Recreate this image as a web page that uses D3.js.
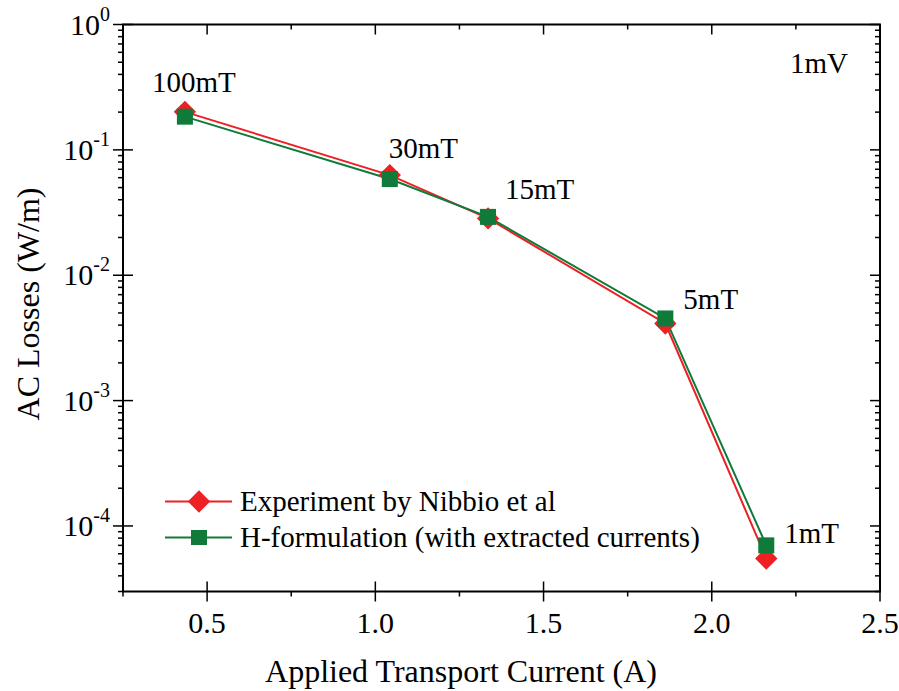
<!DOCTYPE html>
<html><head><meta charset="utf-8">
<script src="https://cdn.jsdelivr.net/npm/d3@7/dist/d3.min.js"></script>
<style>body{margin:0;background:#fff}svg{display:block}text{font-family:"Liberation Serif","Times New Roman","DejaVu Serif",serif;fill:#000}</style>
</head><body>
<script>
const current = [0.434, 1.043, 1.335, 1.862, 2.162];
const fieldLabels = ["100mT", "30mT", "15mT", "5mT", "1mT"];
const experiment = [0.201, 0.0629, 0.0284, 0.00412, 0.000055];
const hFormulation = [0.184, 0.0585, 0.0292, 0.00452, 0.000070];
const xTicks = [0.5, 1.0, 1.5, 2.0, 2.5];
const yTickExps = [0, -1, -2, -3, -4];
const seriesNames = ["Experiment by Nibbio et al", "H-formulation (with extracted currents)"];
const colors = ["#ee2024", "#0f7a3a"];

const W = 899, H = 691;
const m = {l:123, r:880, t:24.5, b:591.5};
const svg = d3.select("body").append("svg").attr("width", W).attr("height", H)
  .attr("font-family", "'Liberation Serif','Times New Roman',serif");
const x = d3.scaleLinear().domain([0.25, 2.5]).range([m.l, m.r]);
const y = d3.scaleLog().domain([3e-5, 1]).range([m.b, m.t]);

// minor ticks
const xMinor = d3.range(0.25, 2.51, 0.25).filter(v => Math.abs(v*2 - Math.round(v*2)) > 1e-6);
const yMinor = [];
for (let e = -5; e < 0; e++) for (let k = 2; k <= 9; k++) { const v = k*Math.pow(10,e); if (v >= 3e-5 && v < 1) yMinor.push(v); }
const g = svg.append("g").attr("stroke", "#000").attr("stroke-width", 1.5);
xTicks.forEach(v => g.append("line").attr("x1", x(v)).attr("x2", x(v)).attr("y1", m.b-10).attr("y2", m.b+10));
xMinor.forEach(v => g.append("line").attr("x1", x(v)).attr("x2", x(v)).attr("y1", m.b).attr("y2", m.b+5));
xTicks.forEach(v => g.append("line").attr("x1", x(v)).attr("x2", x(v)).attr("y1", m.t).attr("y2", m.t+10));
xMinor.forEach(v => g.append("line").attr("x1", x(v)).attr("x2", x(v)).attr("y1", m.t).attr("y2", m.t+5));
yTickExps.forEach(e => g.append("line").attr("y1", y(Math.pow(10,e))).attr("y2", y(Math.pow(10,e))).attr("x1", m.l-10).attr("x2", m.l+10));
yMinor.forEach(v => g.append("line").attr("y1", y(v)).attr("y2", y(v)).attr("x1", m.l-5).attr("x2", m.l));
yTickExps.forEach(e => g.append("line").attr("y1", y(Math.pow(10,e))).attr("y2", y(Math.pow(10,e))).attr("x1", m.r-10).attr("x2", m.r));
yMinor.forEach(v => g.append("line").attr("y1", y(v)).attr("y2", y(v)).attr("x1", m.r-5).attr("x2", m.r));
svg.append("rect").attr("x", m.l).attr("y", m.t).attr("width", m.r-m.l).attr("height", m.b-m.t)
  .attr("fill", "none").attr("stroke", "#000").attr("stroke-width", 2);

// tick labels
xTicks.forEach(v => svg.append("text").attr("x", x(v)).attr("y", m.b+41).attr("text-anchor","middle")
  .attr("font-size", 30).text(v.toFixed(1)));
yTickExps.forEach(e => {
  const t = svg.append("text").attr("x", m.l-13).attr("y", y(Math.pow(10,e))+10).attr("text-anchor","end").attr("font-size", 30);
  t.append("tspan").text("10");
  t.append("tspan").attr("dy", -14).attr("font-size", 20).text(e === 0 ? "0" : ("-" + Math.abs(e)));
});

// axis titles
svg.append("text").attr("x", 461).attr("y", 682).attr("text-anchor","middle").attr("font-size", 32)
  .text("Applied Transport Current (A)");
svg.append("text").attr("transform", "translate(39,304) rotate(-90)").attr("text-anchor","middle").attr("font-size", 32)
  .text("AC Losses (W/m)");

// series
const line = d3.line().x(d => x(d[0])).y(d => y(d[1]));
[experiment, hFormulation].forEach((vals, i) => {
  const pts = current.map((c, j) => [c, vals[j]]);
  svg.append("path").attr("d", line(pts)).attr("fill","none").attr("stroke", colors[i]).attr("stroke-width", 2);
});
const diamondPath = d3.symbol().type(d3.symbolSquare).size(250);
const p0 = current.map((c, j) => [c, experiment[j]]);
svg.selectAll(".dia").data(p0).enter().append("path")
  .attr("transform", d => `translate(${x(d[0])},${y(d[1])}) rotate(45)`)
  .attr("d", diamondPath).attr("fill", colors[0]);
const p1 = current.map((c, j) => [c, hFormulation[j]]);
svg.selectAll(".sq").data(p1).enter().append("rect")
  .attr("x", d => x(d[0])-8).attr("y", d => y(d[1])-8).attr("width", 16).attr("height", 16).attr("fill", colors[1]);

// field labels
const labOff = [[-33,-20],[-1,-17],[17,-19],[18,-15],[18,-15]];
fieldLabels.forEach((t, j) => svg.append("text").attr("x", x(current[j]) + labOff[j][0])
  .attr("y", y(experiment[j]) + labOff[j][1]).attr("font-size", 29).text(t));
svg.append("text").attr("x", 790).attr("y", 73).attr("font-size", 29).text("1mV");

// legend
const leg = [501.5, 537.5];
seriesNames.forEach((n, i) => {
  svg.append("line").attr("x1", 165).attr("x2", 232).attr("y1", leg[i]).attr("y2", leg[i]).attr("stroke", colors[i]).attr("stroke-width", 2);
  if (i === 0) svg.append("path").attr("transform", `translate(199,${leg[i]}) rotate(45)`)
    .attr("d", diamondPath).attr("fill", colors[0]);
  else svg.append("rect").attr("x", 191).attr("y", leg[i]-7.5).attr("width", 16).attr("height", 15).attr("fill", colors[1]);
  svg.append("text").attr("x", 240).attr("y", leg[i]+9).attr("font-size", 29).text(n);
});
</script>
</body></html>
